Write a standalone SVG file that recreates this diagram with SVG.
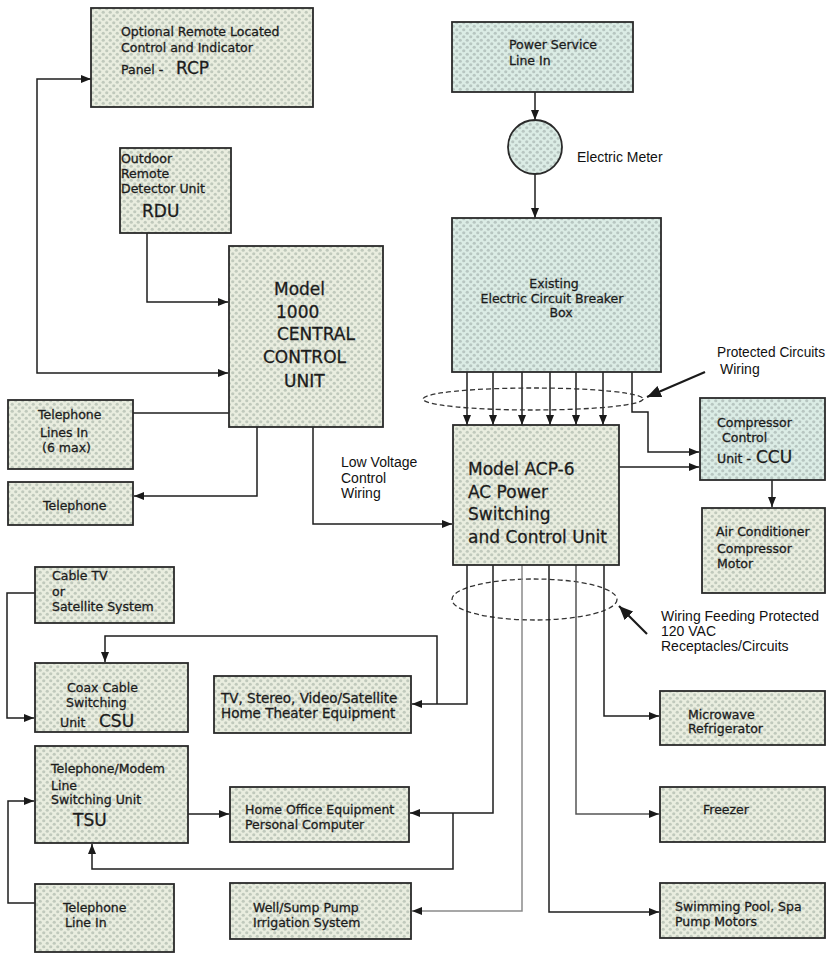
<svg xmlns="http://www.w3.org/2000/svg" width="826" height="954" viewBox="0 0 826 954">
<defs>
<pattern id="dotG" width="7" height="7" patternUnits="userSpaceOnUse">
<rect width="7" height="7" fill="#e9eddf"/>
<circle cx="1.75" cy="1.75" r="1.6" fill="#c0c9bc"/>
<circle cx="5.25" cy="5.25" r="1.6" fill="#c0c9bc"/>
</pattern>
<pattern id="dotM" width="7" height="7" patternUnits="userSpaceOnUse">
<rect width="7" height="7" fill="#dbece5"/>
<circle cx="1.75" cy="1.75" r="1.6" fill="#b7c6c1"/>
<circle cx="5.25" cy="5.25" r="1.6" fill="#b7c6c1"/>
</pattern>
<marker id="ah" viewBox="0 0 10 8" refX="10" refY="4" markerWidth="10" markerHeight="8" markerUnits="userSpaceOnUse" orient="auto-start-reverse">
<path d="M0,0 L10,4 L0,8 z" fill="#1a1a1a"/>
</marker>
<marker id="ahb" viewBox="0 0 14 12" refX="14" refY="6" markerWidth="14" markerHeight="12" markerUnits="userSpaceOnUse" orient="auto">
<path d="M0,0 L14,6 L0,12 z" fill="#1a1a1a"/>
</marker>
</defs>
<style>
.bx{fill:url(#dotG);stroke:#2a2a2a;stroke-width:1.8}
.bm{fill:url(#dotM);stroke:#2a2a2a;stroke-width:1.8}
.lb{font-family:"DejaVu Sans","Liberation Sans",sans-serif;font-size:12.5px;fill:#1c1c1c;stroke:#1c1c1c;stroke-width:0.3}
.big{font-size:17px}
.ext{font-family:"Liberation Sans",Arial,sans-serif;font-size:14px;fill:#111}
.cn{fill:none;stroke:#1e1e1e;stroke-width:1.5}
.lt{stroke:#8a8a8a}
.md{stroke:#555}
.ar{marker-end:url(#ah)}
.ptr{fill:none;stroke:#1a1a1a;stroke-width:2.2;marker-end:url(#ahb)}
.el{fill:none;stroke:#333;stroke-width:1.3;stroke-dasharray:5 3}
</style>
<rect width="826" height="954" fill="#ffffff"/>

<g id="connectors">
<path class="cn ar" d="M91,79 H37 V373 H228" marker-start="url(#ah)"/>
<path class="cn ar" d="M147,233 V302 H228"/>
<path class="cn" d="M133,413 H229"/>
<path class="cn ar" d="M257,427 V496 H134"/>
<path class="cn ar" d="M313,427 V524 H452"/>
<path class="cn ar" d="M535,92 V120"/>
<path class="cn ar" d="M535,174 V218"/>
<path class="cn ar" d="M467,372 V425"/>
<path class="cn ar" d="M493,372 V425"/>
<path class="cn ar" d="M522,372 V425"/>
<path class="cn ar" d="M550,372 V425"/>
<path class="cn ar" d="M576,372 V425"/>
<path class="cn ar" d="M603,372 V425"/>
<path class="cn ar" d="M632,372 V412 H648 V452 H699"/>
<path class="cn ar" d="M619,467 H699"/>
<path class="cn ar" d="M772,480 V507"/>
<ellipse class="el" cx="533" cy="399" rx="110" ry="11"/>
<path class="ptr" d="M705,372 L647,397"/>
<ellipse class="el" cx="534.5" cy="599.5" rx="82.5" ry="20.5"/>
<path class="ptr" d="M647,634 L619,606"/>
<path class="cn ar" d="M467,565 V704 H412"/>
<path class="cn ar" d="M437,704 V636 H105 V662"/>
<path class="cn ar" d="M493,565 V813 H410"/>
<path class="cn ar" d="M453,813 V869 H92 V844"/>
<path class="cn ar lt" d="M522,565 V911 H412"/>
<path class="cn ar" d="M549,565 V912 H659"/>
<path class="cn ar md" d="M576,565 V814 H659"/>
<path class="cn ar" d="M604,565 V716 H659"/>
<path class="cn ar" d="M35,593 H7 V718 H34"/>
<path class="cn ar" d="M35,903 H8 V801 H34"/>
<path class="cn ar" d="M188,814 H229"/>
</g>

<g id="rcp">
<rect class="bx" x="91" y="8" width="222" height="99"/>
<text class="lb" x="121" y="36">Optional Remote Located</text>
<text class="lb" x="121" y="52">Control  and Indicator</text>
<text class="lb" x="121" y="74">Panel -</text>
<text class="lb big" x="176" y="74">RCP</text>
</g>

<g id="rdu">
<rect class="bx" x="120" y="148" width="111" height="85"/>
<text class="lb" x="121" y="163">Outdoor</text>
<text class="lb" x="121" y="178">Remote</text>
<text class="lb" x="121" y="193">Detector Unit</text>
<text class="lb big" x="142" y="217">RDU</text>
</g>

<g id="central-control-unit">
<rect class="bx" x="229" y="246" width="154" height="181"/>
<text class="lb big" x="274" y="295">Model</text>
<text class="lb big" x="276" y="318">1000</text>
<text class="lb big" x="277" y="340">CENTRAL</text>
<text class="lb big" x="263" y="363">CONTROL</text>
<text class="lb big" x="284" y="387">UNIT</text>
</g>

<g id="telephone-lines-in">
<rect class="bx" x="8" y="400" width="125" height="69"/>
<text class="lb" x="38" y="419">Telephone</text>
<text class="lb" x="40" y="437">Lines In</text>
<text class="lb" x="42" y="452">(6 max)</text>
</g>

<g id="telephone">
<rect class="bx" x="8" y="482" width="125" height="43"/>
<text class="lb" x="43" y="510">Telephone</text>
</g>

<g id="power-service">
<rect class="bm" x="452" y="22" width="181" height="70"/>
<text class="lb" x="509" y="49">Power Service</text>
<text class="lb" x="509" y="65">Line In</text>
</g>

<g id="electric-meter">
<circle class="bm" cx="535" cy="147" r="27"/>
<text class="ext" x="577" y="162">Electric Meter</text>
</g>

<g id="breaker-box">
<rect class="bm" x="452" y="218" width="209" height="154"/>
<text class="lb" x="554" y="288" text-anchor="middle">Existing</text>
<text class="lb" x="552" y="303" text-anchor="middle">Electric Circuit Breaker</text>
<text class="lb" x="561" y="317" text-anchor="middle">Box</text>
</g>

<text class="ext" x="717" y="357" textLength="108" lengthAdjust="spacingAndGlyphs">Protected Circuits</text>
<text class="ext" x="720" y="374">Wiring</text>

<g id="acp-6">
<rect class="bx" x="453" y="425" width="166" height="140"/>
<text class="lb big" x="468" y="475">Model ACP-6</text>
<text class="lb big" x="468" y="498">AC Power</text>
<text class="lb big" x="468" y="520">Switching</text>
<text class="lb big" x="468" y="543">and Control Unit</text>
</g>

<text class="ext" x="341" y="467">Low Voltage</text>
<text class="ext" x="341" y="483">Control</text>
<text class="ext" x="341" y="498">Wiring</text>

<g id="compressor-control-unit">
<rect class="bm" x="700" y="398" width="125" height="82"/>
<text class="lb" x="717" y="427">Compressor</text>
<text class="lb" x="722" y="442">Control</text>
<text class="lb" x="717" y="463">Unit -</text>
<text class="lb big" x="756" y="463">CCU</text>
</g>

<g id="ac-compressor-motor">
<rect class="bx" x="702" y="508" width="123" height="85"/>
<text class="lb" x="716" y="536">Air Conditioner</text>
<text class="lb" x="717" y="553">Compressor</text>
<text class="lb" x="717" y="568">Motor</text>
</g>

<text class="ext" x="661" y="621">Wiring Feeding Protected</text>
<text class="ext" x="661" y="636">120 VAC</text>
<text class="ext" x="661" y="651">Receptacles/Circuits</text>

<g id="cable-tv">
<rect class="bx" x="35" y="567" width="139" height="56"/>
<text class="lb" x="52" y="580">Cable TV</text>
<text class="lb" x="52" y="596">or</text>
<text class="lb" x="52" y="611">Satellite System</text>
</g>

<g id="csu">
<rect class="bx" x="35" y="663" width="153" height="69"/>
<text class="lb" x="67" y="692">Coax Cable</text>
<text class="lb" x="66" y="707">Switching</text>
<text class="lb" x="60" y="727">Unit</text>
<text class="lb big" x="99" y="727">CSU</text>
</g>

<g id="tv-equipment">
<rect class="bx" x="214" y="676" width="197" height="57"/>
<text class="lb" x="221" y="703" style="font-size:13.5px">TV, Stereo, Video/Satellite</text>
<text class="lb" x="221" y="718" style="font-size:13.5px">Home Theater Equipment</text>
</g>

<g id="microwave">
<rect class="bx" x="660" y="691" width="165" height="54"/>
<text class="lb" x="688" y="719">Microwave</text>
<text class="lb" x="688" y="733">Refrigerator</text>
</g>

<g id="tsu">
<rect class="bx" x="35" y="746" width="153" height="97"/>
<text class="lb" x="51" y="773">Telephone/Modem</text>
<text class="lb" x="51" y="790">Line</text>
<text class="lb" x="51" y="804">Switching Unit</text>
<text class="lb big" x="73" y="826">TSU</text>
</g>

<g id="home-office">
<rect class="bx" x="230" y="787" width="179" height="55"/>
<text class="lb" x="245" y="814">Home Office Equipment</text>
<text class="lb" x="245" y="829">Personal Computer</text>
</g>

<g id="freezer">
<rect class="bx" x="660" y="787" width="165" height="55"/>
<text class="lb" x="703" y="814">Freezer</text>
</g>

<g id="telephone-line-in">
<rect class="bx" x="35" y="884" width="139" height="68"/>
<text class="lb" x="63" y="912">Telephone</text>
<text class="lb" x="65" y="927">Line In</text>
</g>

<g id="well-pump">
<rect class="bx" x="230" y="883" width="181" height="56"/>
<text class="lb" x="253" y="912">Well/Sump Pump</text>
<text class="lb" x="253" y="927">Irrigation System</text>
</g>

<g id="pool-spa">
<rect class="bx" x="660" y="883" width="165" height="55"/>
<text class="lb" x="675" y="911">Swimming Pool, Spa</text>
<text class="lb" x="675" y="926">Pump Motors</text>
</g>
</svg>
